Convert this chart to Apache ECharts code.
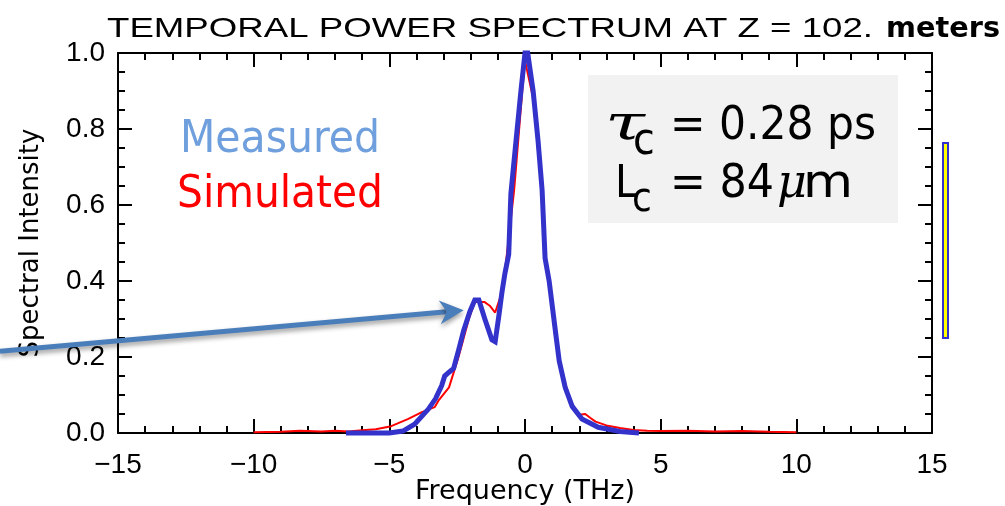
<!DOCTYPE html>
<html><head><meta charset="utf-8">
<script src="https://cdn.jsdelivr.net/npm/echarts@6/dist/echarts.min.js"></script>
<style>html,body{margin:0;padding:0;background:#fff}#c{width:1005px;height:506px}</style>
</head><body><div id="c"></div>
<script>
// Measured (blue) spectrum
const measuredFreq = [-6.6,-5.0,-4.5,-4.07,-3.56,-3.3,-3.07,-2.96,-2.8,-2.63,-2.44,-2.26,-2.03,-1.85,-1.7,-1.48,-1.22,-1.1,-0.96,-0.85,-0.74,-0.6,-0.52,-0.33,-0.15,0.0,0.1,0.3,0.48,0.63,0.74,0.89,1.1,1.26,1.48,1.74,2.1,2.7,3.5,4.2];
const measuredVal  = [0.0,0.0,0.005,0.023,0.063,0.09,0.125,0.15,0.16,0.17,0.22,0.27,0.32,0.35,0.35,0.30,0.245,0.24,0.31,0.37,0.42,0.47,0.63,0.77,0.90,1.0,1.0,0.90,0.77,0.64,0.46,0.40,0.28,0.19,0.12,0.07,0.037,0.015,0.004,0.0];
// Simulated (red) spectrum
const simFreq = [-10,-9,-8.3,-7.5,-7,-6.5,-6,-5.5,-4.93,-4.3,-3.8,-3.33,-3.19,-2.8,-2.45,-2.07,-1.85,-1.5,-1.3,-1.1,-0.9,-0.7,-0.4,-0.1,0.0,0.3,0.63,0.75,0.9,1.1,1.37,1.65,1.9,2.0,2.22,2.4,2.6,3.0,3.5,4.0,4.5,5,6,7,8,9,10];
const simVal  = [0.002,0.003,0.006,0.004,0.006,0.004,0.007,0.01,0.018,0.037,0.055,0.068,0.085,0.12,0.20,0.30,0.345,0.345,0.335,0.317,0.36,0.45,0.64,0.90,0.98,0.88,0.64,0.46,0.39,0.26,0.16,0.09,0.055,0.048,0.05,0.04,0.03,0.02,0.013,0.008,0.006,0.005,0.006,0.004,0.005,0.003,0.002];
const xTicks = [-15,-10,-5,0,5,10,15];
const yTicks = [0.0,0.2,0.4,0.6,0.8,1.0];

const zip = (a,b) => a.map((x,i)=>[x,b[i]]);
const chart = echarts.init(document.getElementById('c'), null, {renderer:'canvas'});
const lab = '"Liberation Sans",Arial,sans-serif';
const nameFont = '"DejaVu Sans",sans-serif';
const tah = '"DejaVu Sans Condensed","DejaVu Sans",sans-serif';
const tickFmt = v => (v<0?'\u2212':'') + Math.abs(v);
const line = {show:true,onZero:false,lineStyle:{color:'#000',width:2}};
const tick = {show:true,inside:true,length:14,lineStyle:{color:'#000',width:2}};
const minor = n => ({show:true,splitNumber:n,length:7,lineStyle:{color:'#000',width:2}});
const option = {
  animation:false,
  backgroundColor:'#fff',
  grid:{left:118,right:73,top:53,bottom:73,containLabel:false,outerBoundsMode:'none'},
  xAxis:[
    {type:'value',min:xTicks[0],max:xTicks[xTicks.length-1],interval:5,position:'bottom',
      axisLine:line,axisTick:tick,minorTick:minor(5),splitLine:{show:false},
      axisLabel:{formatter:tickFmt,fontFamily:lab,fontSize:28,color:'#000',margin:18},
      name:'Frequency (THz)',nameLocation:'middle',nameGap:45,nameMoveOverlap:false,
      nameTextStyle:{fontFamily:nameFont,fontSize:27,color:'#000'}},
    {type:'value',min:xTicks[0],max:xTicks[xTicks.length-1],interval:5,position:'top',
      axisLine:line,axisTick:tick,minorTick:minor(5),splitLine:{show:false},axisLabel:{show:false}}
  ],
  yAxis:[
    {type:'value',min:yTicks[0],max:yTicks[yTicks.length-1],interval:0.2,position:'left',
      axisLine:line,axisTick:tick,minorTick:minor(4),splitLine:{show:false},
      axisLabel:{formatter:v=>v.toFixed(1),fontFamily:lab,fontSize:28,color:'#000',margin:13},
      name:'Spectral Intensity',nameLocation:'middle',nameGap:74,nameRotate:90,nameMoveOverlap:false,
      nameTextStyle:{fontFamily:nameFont,fontSize:26,color:'#000'}},
    {type:'value',min:yTicks[0],max:yTicks[yTicks.length-1],interval:0.2,position:'right',
      axisLine:line,axisTick:tick,minorTick:minor(4),splitLine:{show:false},axisLabel:{show:false}}
  ],
  series:[
    {name:'Simulated',type:'line',data:zip(simFreq,simVal),showSymbol:false,clip:false,
     lineStyle:{color:'#ff0000',width:2},z:3},
    {name:'Measured',type:'line',data:zip(measuredFreq,measuredVal),showSymbol:false,clip:false,
     lineStyle:{color:'#3333cc',width:5,join:'miter'},z:4}
  ]
};
chart.setOption(option);

// text helper: left x, alphabetic baseline y, optional width fit
const cv = document.createElement('canvas').getContext('2d');
function T(str, x, base, size, fam, opt){
  opt = opt || {};
  const font = (opt.style||'') + ' ' + (opt.weight||'') + ' ' + size + 'px ' + fam;
  cv.font = font;
  const w = cv.measureText(str).width;
  const sx = opt.width ? opt.width / w : 1;
  return {type:'text', x:x, y:base - 0.82*size, scaleX:sx, z:opt.z||12,
    style:{text:str, font:font, fill:opt.fill||'#000', verticalAlign:'top', align:'left'}};
}
const P = (x,y) => chart.convertToPixel({xAxisIndex:0,yAxisIndex:0},[x,y]);
const tip = P(-2.26,0.323);
const tail = [0, P(-19.4,0.215)[1]];
const ang = Math.atan2(tip[1]-tail[1], tip[0]-tail[0]);
const ca=Math.cos(ang), sa=Math.sin(ang);
const hl=24, hw=12, notch=7;
const pt=(d,n)=>[tip[0]-d*ca - n*sa, tip[1]-d*sa + n*ca];
const arrowColor='#4a7ebb';
const sh = {shadowColor:'rgba(0,0,0,0.4)',shadowBlur:5,shadowOffsetY:3};
const serif = '"DejaVu Serif",serif';
chart.setOption({graphic:[
  T('TEMPORAL POWER SPECTRUM AT Z = 102.', 107, 38, 28, lab, {width:766}),
  {type:'rect',x:874,y:12,z:11,shape:{width:10,height:30},style:{fill:'#fff'}},
  T('meters', 886, 39, 29, '"DejaVu Sans",sans-serif', {weight:'bold', width:114}),
  T('Measured', 180, 155, 45, tah, {width:200, fill:'#6f9fdc'}),
  T('Simulated', 177, 210, 45, tah, {width:206, fill:'#ff0000'}),
  {type:'rect',x:588,y:75,z:9,shape:{width:310,height:148},style:{fill:'#f2f2f2'}},
  T('\u03c4', 605, 142, 48, serif, {style:'italic', width:40}),
  T('c', 633, 157, 44, tah),
  T('= 0.28 ps', 670, 142, 47, tah, {width:206}),
  T('L', 615, 200, 45, tah),
  T('c', 632, 213, 40, tah),
  T('= 84', 670, 200, 47, tah, {width:104}),
  T('\u03bc', 777, 200, 46, serif, {style:'italic'}),
  T('m', 803, 200, 47, tah, {width:50}),
  {type:'rect',x:943,y:143,z:10,shape:{width:5,height:195},style:{fill:'#ffff00',stroke:'#3333cc',lineWidth:2}},
  {type:'line',z:20,shape:{x1:tail[0],y1:tail[1],x2:pt(hl-notch,0)[0],y2:pt(hl-notch,0)[1]},
    style:Object.assign({stroke:arrowColor,lineWidth:5},sh)},
  {type:'polygon',z:21,shape:{points:[tip,pt(hl,hw),pt(hl-notch,0),pt(hl,-hw)]},
    style:Object.assign({fill:arrowColor},sh)}
]});
</script></body></html>
